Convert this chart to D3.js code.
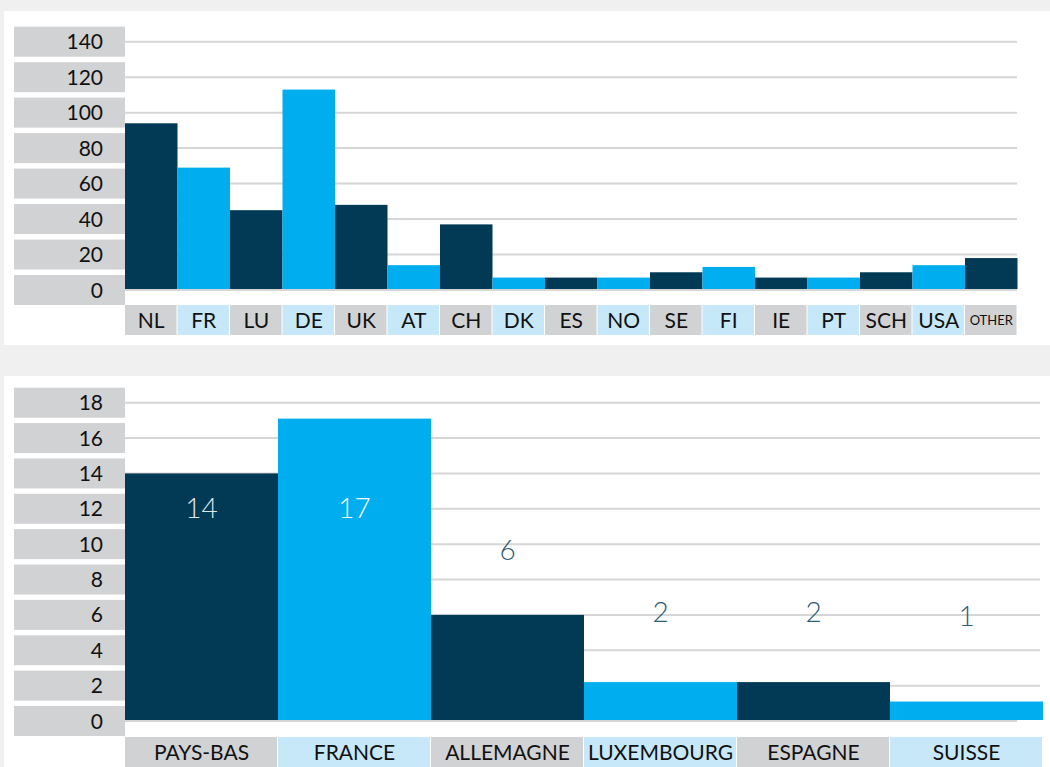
<!DOCTYPE html>
<html>
<head>
<meta charset="utf-8">
<script src="https://cdn.jsdelivr.net/npm/d3@7"></script>
<style>
  html, body { margin: 0; padding: 0; background: #f0f0f0; }
  svg { display: block; }
  text { font-family: "Lato", "Open Sans", sans-serif; }
</style>
</head>
<body>
<svg id="chart" width="1050" height="767"></svg>
<script>
// ---------- data ----------
const topCategories = ["NL","FR","LU","DE","UK","AT","CH","DK","ES","NO","SE","FI","IE","PT","SCH","USA","OTHER"];
const topValues     = [94, 69, 45, 113, 48, 14, 37, 7, 7, 7, 10, 13, 7, 7, 10, 14, 18];
const topTicks      = [0, 20, 40, 60, 80, 100, 120, 140];

const bottomCategories = ["PAYS-BAS","FRANCE","ALLEMAGNE","LUXEMBOURG","ESPAGNE","SUISSE"];
const bottomValues     = [14, 17.1, 6, 2.2, 2.2, 1.1];
const bottomLabels     = ["14","17","6","2","2","1"];
const bottomLabelLevels = [11.5, 11.5, 9.1, 5.6, 5.6, 5.4];
const bottomTicks      = [0, 2, 4, 6, 8, 10, 12, 14, 16, 18];

// ---------- styles ----------
const DARK = "#023a56", LIGHT = "#00aeef";
const BOX_GRAY = "#d1d2d4", BOX_BLUE = "#c6e8f8";
const GRID = "#d6d6d6";

const svg = d3.select("#chart");
svg.append("rect").attr("width", 1050).attr("height", 767).attr("fill", "#f0f0f0");
svg.append("rect").attr("x", 4).attr("y", 11).attr("width", 1046).attr("height", 334).attr("fill", "#fff");
svg.append("rect").attr("x", 4).attr("y", 376).attr("width", 1046).attr("height", 391).attr("fill", "#fff");

function drawChart(cfg) {
  const g = svg.append("g");
  const y = d3.scaleLinear().domain(cfg.domain).range([cfg.y0, cfg.yTop]);
  const x = d3.scaleBand().domain(cfg.categories).range([125, cfg.xRight]).padding(0);

  // y-axis boxes + labels
  const ticks = g.selectAll("g.ytick").data(cfg.ticks).join("g").attr("class", "ytick")
    .attr("transform", d => `translate(0,${y(d)})`);
  ticks.append("rect").attr("x", 14).attr("y", -15).attr("width", 111).attr("height", 30).attr("fill", BOX_GRAY);
  ticks.append("text").attr("x", 103).attr("y", 0).attr("dy", "0.36em")
    .attr("text-anchor", "end").attr("font-size", 21).attr("fill", "#111").text(d => d);

  // gridlines
  g.selectAll("line.grid").data(cfg.ticks).join("line").attr("class", "grid")
    .attr("x1", 125).attr("x2", d => d === 0 ? 1017 : cfg.gridRight)
    .attr("y1", d => y(d)).attr("y2", d => y(d))
    .attr("stroke", GRID).attr("stroke-width", 2);

  // bars
  g.selectAll("rect.bar").data(cfg.values).join("rect").attr("class", "bar")
    .attr("x", (d, i) => x(cfg.categories[i]))
    .attr("width", x.bandwidth())
    .attr("y", d => y(d))
    .attr("height", d => y(0) - 1 - y(d))
    .attr("fill", (d, i) => i % 2 === 0 ? DARK : LIGHT);

  // x label boxes
  const xl = g.selectAll("g.xlab").data(cfg.categories).join("g").attr("class", "xlab")
    .attr("transform", d => `translate(${x(d)},${cfg.boxTop})`);
  xl.append("rect").attr("x", 0).attr("y", 0).attr("width", x.bandwidth() - 1).attr("height", 30)
    .attr("fill", (d, i) => i % 2 === 0 ? BOX_GRAY : BOX_BLUE);
  xl.append("text").attr("x", x.bandwidth() / 2).attr("y", 15).attr("dy", "0.36em")
    .attr("text-anchor", "middle")
    .attr("font-size", d => d === "OTHER" ? 13 : 21)
    .attr("fill", "#111").text(d => d);

  return { x, y, g };
}

drawChart({
  categories: topCategories, values: topValues, ticks: topTicks,
  domain: [0, 140], y0: 290, yTop: 41.7, xRight: 1017.5, gridRight: 1017, boxTop: 305
});

const b = drawChart({
  categories: bottomCategories, values: bottomValues, ticks: bottomTicks,
  domain: [0, 18], y0: 721, yTop: 402.7, xRight: 1043, gridRight: 1040, boxTop: 737
});

// value labels
b.g.selectAll("text.val").data(bottomLabels).join("text").attr("class", "val")
  .attr("x", (d, i) => b.x(bottomCategories[i]) + b.x.bandwidth() / 2)
  .attr("y", (d, i) => b.y(bottomLabelLevels[i]))
  .attr("text-anchor", "middle")
  .attr("font-size", 28).attr("font-weight", 300)
  .attr("fill", (d, i) => {
    const inside = b.y(bottomValues[i]) < b.y(bottomLabelLevels[i]) - 25;
    if (!inside) return "#2f5d78";
    return i % 2 === 0 ? "#dfe7ec" : "#ffffff";
  })
  .text(d => d);
</script>
</body>
</html>
